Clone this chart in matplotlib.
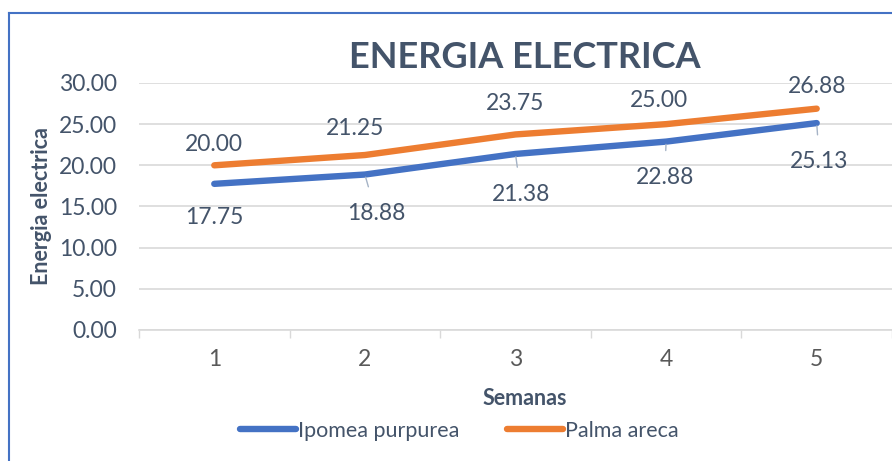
import numpy as np
import matplotlib.pyplot as plt
from matplotlib.lines import Line2D

semanas = [1, 2, 3, 4, 5]
ipomea = [17.75, 18.88, 21.38, 22.88, 25.13]
palma = [20.00, 21.25, 23.75, 25.00, 26.88]
yticks = [0, 5, 10, 15, 20, 25, 30]

txt = '#44546A'
blue = '#4472C4'
orange = '#ED7D31'
grid = '#D9D9D9'

plt.rcParams['font.family'] = ['Lato', 'DejaVu Sans']

fig = plt.figure(figsize=(8.92, 4.61), dpi=100)
ax = fig.add_axes([0.1558, 0.2842, 0.8442, 0.8200 - 0.2842])

ax.plot(semanas, ipomea, color=blue, lw=4.6, solid_capstyle='round', label='Ipomea purpurea', zorder=3)
ax.plot(semanas, palma, color=orange, lw=4.6, solid_capstyle='round', label='Palma areca', zorder=3)

ax.set_xlim(0.5, 5.5)
ax.set_ylim(0, 30)
ax.set_yticks(yticks)
ax.set_yticklabels([f'{v:.2f}' for v in yticks])
ax.set_xticks(semanas)
ax.set_xticks(np.arange(0.5, 5.6, 1), minor=True)
ax.tick_params(axis='x', which='major', length=0, pad=14, labelsize=16.5, labelcolor='#595959')
ax.tick_params(axis='x', which='minor', length=6, color=grid, width=1)
ax.tick_params(axis='y', length=0, pad=16, labelsize=16.5, labelcolor=txt)
ax.grid(axis='y', color=grid, lw=1.2)
ax.set_axisbelow(True)
for s in ['top', 'right', 'left']:
    ax.spines[s].set_visible(False)
ax.spines['bottom'].set_color(grid)
ax.spines['bottom'].set_linewidth(1.2)

# data labels, orange above
up_off = [(0, 15), (-7, 19), (0, 22), (-5, 17), (0, 16)]
for x, y, off in zip(semanas, palma, up_off):
    ax.annotate(f'{y:.2f}', (x, y), xytext=off, textcoords='offset points',
                ha='center', va='center', fontsize=16.5, color=txt)

# blue below, with leader lines
dn_off = [(0, -24), (8, -28), (4, -29), (-1, -26), (2, -28)]
for i, (x, y, off) in enumerate(zip(semanas, ipomea, dn_off)):
    ap = None
    if i > 0:
        ap = dict(arrowstyle='-', color='#A5B3C6', lw=1, shrinkA=10, shrinkB=2)
    ax.annotate(f'{y:.2f}', (x, y), xytext=off, textcoords='offset points',
                ha='center', va='center', fontsize=16.5, color=txt, arrowprops=ap)

ax.set_ylabel('Energia electrica', fontsize=15.5, fontweight='bold', color=txt)
ax.yaxis.set_label_coords(-0.115, 0.5)
fig.text(0.588, 1 - 398 / 461, 'Semanas', ha='center', va='center',
         fontsize=15.5, fontweight='bold', color=txt)
fig.text(0.588, 1 - 58 / 461, 'ENERGIA ELECTRICA', ha='center', va='center',
         fontsize=26, fontweight='bold', color=txt)

fig.legend(loc='center', bbox_to_anchor=(0.515, 1 - 431 / 461), ncol=2, frameon=False,
           fontsize=15.5, labelcolor=txt, handlelength=2.6, handletextpad=0.1, columnspacing=2.2)

# chart border (left and top visible)
yb = 1 - 13.5 / 461
xb = 8.5 / 892
fig.add_artist(Line2D([xb, 1.0], [yb, yb], transform=fig.transFigure, color=blue, lw=1.5))
fig.add_artist(Line2D([xb, xb], [0, yb], transform=fig.transFigure, color=blue, lw=1.5))

fig.savefig('out.png', dpi=100)
